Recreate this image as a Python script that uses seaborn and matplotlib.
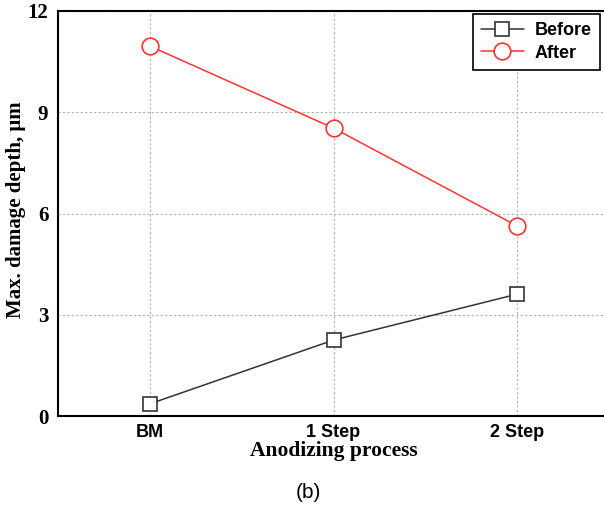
import numpy as np
import pandas as pd
import matplotlib
matplotlib.use("Agg")
import matplotlib.pyplot as plt
from matplotlib.ticker import MultipleLocator
import seaborn as sns

processes = ["BM", "1 Step", "2 Step"]
before = [0.36, 2.25, 3.61]
after = [10.96, 8.53, 5.63]

sns.set_style("white", rc={"text.color": "black", "axes.labelcolor": "black",
                           "xtick.color": "black", "ytick.color": "black"})

df = pd.DataFrame({
    "process": processes * 2,
    "depth": before + after,
    "state": ["Before"] * 3 + ["After"] * 3,
})

fig = plt.figure(figsize=(6.04, 5.14), dpi=100)
ax = fig.add_axes([58 / 604, 98 / 514, 551 / 604, 405 / 514])

styles = {
    "Before": dict(color="#333333", marker="s", ms=10, mfc="white", mec="#333333", mew=1.2),
    "After": dict(color="#ff3333", marker="o", ms=12, mfc="white", mec="#ff3333", mew=1.2),
}
for state, kw in styles.items():
    sub = df[df["state"] == state]
    sns.lineplot(data=sub, x="process", y="depth", ax=ax, label=state,
                 lw=1.1, sort=False, **kw)

ax.set_xlim(-0.5, 2.5)
ax.set_ylim(0, 12)
ax.yaxis.set_major_locator(MultipleLocator(3))
ax.yaxis.set_minor_locator(MultipleLocator(1.5))
ax.set_xticks(range(len(processes)))
ax.set_xticks([0.5, 1.5], minor=True)
ax.tick_params(which="both", direction="in", width=1.3, top=False, right=False)
ax.tick_params(which="major", length=6)
ax.tick_params(which="minor", length=5)
ax.tick_params(axis="x", pad=6)
ax.tick_params(axis="y", pad=7)

ax.grid(True, which="major", ls=(0, (2, 2)), color="#b0b0b0", lw=0.8)
for side in ["left", "bottom", "top"]:
    ax.spines[side].set_linewidth(1.5)
    ax.spines[side].set_color("black")
ax.spines["right"].set_visible(False)

serif = ["Liberation Serif", "DejaVu Serif"]
sans = ["Liberation Sans", "DejaVu Sans"]
for lab in ax.get_yticklabels():
    lab.set_fontfamily(serif)
    lab.set_fontweight("bold")
    lab.set_fontsize(15)
for lab in ax.get_xticklabels():
    lab.set_fontfamily(sans)
    lab.set_fontweight("bold")
    lab.set_fontsize(13)

ax.set_xlabel("Anodizing process", fontfamily=serif, fontweight="bold",
              fontsize=15.5, labelpad=0)
ax.set_ylabel("Max. damage depth, \u03bcm", fontfamily=serif, fontweight="bold",
              fontsize=15)
ax.yaxis.set_label_coords(-32 / 551, 206 / 405)

leg = ax.legend(loc="upper right", bbox_to_anchor=(542 / 551, 402 / 405),
                borderaxespad=0,
                prop={"family": sans, "weight": "bold", "size": 13},
                fancybox=False, edgecolor="black", framealpha=1,
                handlelength=2.4, borderpad=0.45, labelspacing=0.3,
                handletextpad=0.6)
leg.get_frame().set_linewidth(1.2)

fig.text(308 / 604, 1 - 493 / 514, "(b)", ha="center", va="center",
         fontsize=15, fontfamily=sans)

fig.savefig("out.png", dpi=100)
